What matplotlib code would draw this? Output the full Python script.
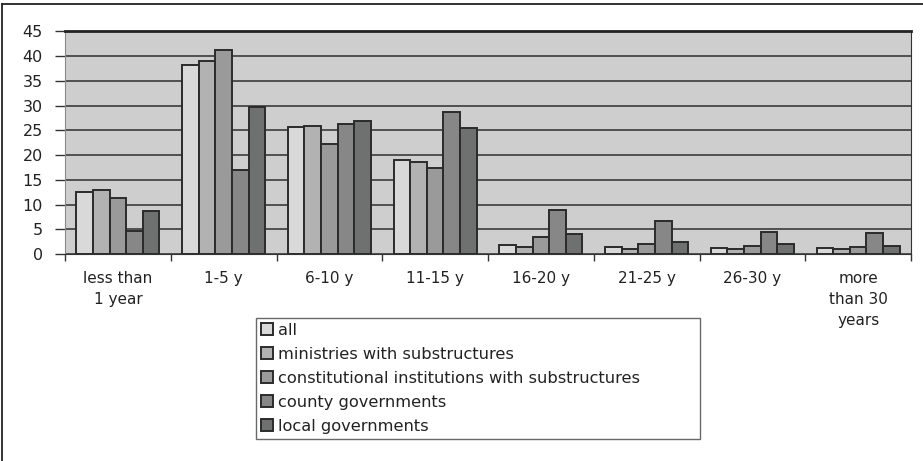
import matplotlib.pyplot as plt
import numpy as np
from matplotlib.lines import Line2D

plt.rcParams['font.family'] = ['DejaVu Sans']

# Categories and series values
categories = ['less than\n1 year', '1-5 y', '6-10 y', '11-15 y', '16-20 y',
              '21-25 y', '26-30 y', 'more\nthan 30\nyears']
series_names = ['all', 'ministries with substructures',
                'constitutional institutions with substructures',
                'county governments', 'local governments']
all_vals = [12.6, 38.2, 25.7, 19.0, 1.9, 1.35, 1.15, 1.15]
ministries = [13.0, 39.0, 25.8, 18.7, 1.5, 1.1, 1.0, 0.95]
constitutional = [11.3, 41.3, 22.3, 17.3, 3.5, 1.95, 1.6, 1.5]
county = [4.6, 17.0, 26.2, 28.7, 8.9, 6.6, 4.5, 4.2]
local = [8.7, 29.7, 26.8, 25.5, 4.0, 2.35, 1.95, 1.7]
series = [all_vals, ministries, constitutional, county, local]
colors = ['#d9d9d9', '#b2b2b2', '#9a9a9a', '#878787', '#6f7070']

fig = plt.figure(figsize=(9.23, 4.61), dpi=100)
ax = fig.add_axes([65 / 923, 1 - 254 / 461, 846 / 923, 222.5 / 461])
ax.set_facecolor('#cdcecd')

x = np.arange(len(categories))
w = 0.157
for i, (vals, name, c) in enumerate(zip(series, series_names, colors)):
    ax.bar(x + (i - 2) * w, vals, width=w, color=c, edgecolor='#2b2b2b',
           linewidth=1.4, label=name, zorder=3)

ax.set_xlim(-0.5, len(categories) - 0.5)
ax.set_ylim(0, 45)
ax.set_yticks(np.arange(0, 46, 5))
ax.yaxis.grid(True, color='#2e2e2e', linewidth=1.1, zorder=1)
ax.set_axisbelow(True)

# ticks at category boundaries, labels at centers
ax.set_xticks(np.arange(-0.5, len(categories), 1.0))
ax.set_xticklabels([])
ax.set_xticks(x, minor=True)
ax.set_xticklabels(categories, minor=True, fontsize=11, color='#222222',
                   linespacing=1.5)
ax.tick_params(axis='x', which='major', length=5, width=1, color='#333333')
ax.tick_params(axis='x', which='minor', length=0, pad=12)
ax.tick_params(axis='y', length=7, width=1, color='#333333', labelsize=11.5,
               labelcolor='#222222', pad=9)

ax.spines['top'].set_linewidth(2)
ax.spines['top'].set_color('#222222')
ax.spines['right'].set_color('#333333')
ax.spines['left'].set_color('#888888')
ax.spines['bottom'].set_color('#333333')

leg = ax.legend(loc='upper left', bbox_to_anchor=(256 / 923, 1 - 440 / 461, 444 / 923, 122 / 461),
                bbox_transform=fig.transFigure, mode='expand', borderaxespad=0,
                fontsize=11.7, frameon=True, fancybox=False, handlelength=0.75,
                handleheight=0.75, handletextpad=0.3, labelspacing=0.55,
                borderpad=0.3, labelcolor='#222222')
leg.get_frame().set_edgecolor('#444444')
leg.get_frame().set_linewidth(1)

# outer frame (top and left only)
fig.add_artist(Line2D([2 / 923, 1], [1 - 4.5 / 461, 1 - 4.5 / 461],
                      transform=fig.transFigure, color='#222222', linewidth=1.3))
fig.add_artist(Line2D([2 / 923, 2 / 923], [0, 1 - 4.5 / 461],
                      transform=fig.transFigure, color='#222222', linewidth=1.3))

fig.savefig('out.png', dpi=100)
